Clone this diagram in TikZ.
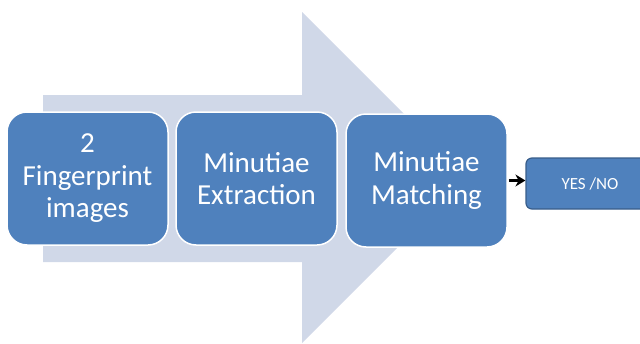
\documentclass[tikz,border=0pt]{standalone}
\usepackage{fontspec}
\setmainfont{Carlito}
\usetikzlibrary{arrows.meta}
\definecolor{arrowbg}{HTML}{D0D8E8}
\definecolor{boxblue}{HTML}{4F81BD}
\definecolor{boxedge}{HTML}{385D8A}
\tikzset{
  stagebox/.style={draw=white, line width=1.5pt, fill=boxblue, rounded corners=20pt,
    minimum width=161pt, minimum height=133pt, text width=155pt, align=center,
    text=white, font=\fontsize{29}{32.5}\selectfont, inner sep=0pt},
  resultbox/.style={draw=boxedge, line width=1.2pt, fill=boxblue, rounded corners=6pt,
    minimum width=128pt, minimum height=51pt, align=center,
    text=white, font=\fontsize{17}{20}\selectfont, inner sep=0pt},
  linkarrow/.style={-{Stealth[length=10pt,width=12pt]}, line width=2.5pt, black}
}
\begin{document}
\begin{tikzpicture}[x=1pt,y=-1pt]
  \useasboundingbox (0,0) rectangle (640,343);
  \clip (0,0) rectangle (640,343);
  % large background arrow
  \fill[arrowbg] (43,95) -- (302,95) -- (302,12) -- (467.5,177.5) -- (302,343)
    -- (302,262) -- (43,262) -- cycle;
  % process stages
  \node[stagebox] (imgs) at (87.5,178.5) {2\\Fingerprint\\images};
  \node[stagebox] (extr) at (256.5,178.5) {Minutiae\\Extraction};
  \node[stagebox] (matc) at (426.5,180.5) {Minutiae\\Matching};
  % result
  \node[resultbox] (res) at (590,183.5) {YES /NO};
  \draw[linkarrow] (matc.east) ++(1pt,0) coordinate (m) -- (m -| res.west);
\end{tikzpicture}
\end{document}
